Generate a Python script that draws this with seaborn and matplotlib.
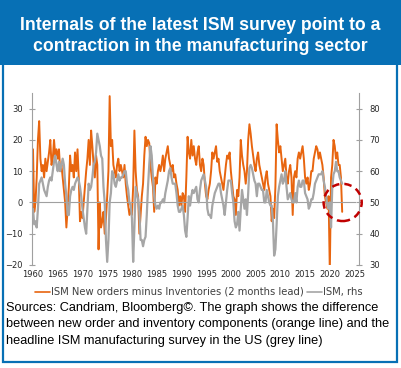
import numpy as np
import pandas as pd
import matplotlib
matplotlib.use("Agg")
import matplotlib.pyplot as plt
import seaborn as sns
from matplotlib.patches import Rectangle, Ellipse
from matplotlib.lines import Line2D

sns.set_style("white")
plt.rcParams['font.family'] = ['Liberation Sans', 'DejaVu Sans']

# ISM manufacturing PMI (rhs), quarterly readings 1960Q1 - 2022Q3
ism_pmi = [
    48, 43, 44, 42,  48, 56, 57, 58,  56, 54, 53, 52,  55, 57, 58, 57,   # 1960-63
    60, 63, 65, 62,  60, 63, 60, 62,  64, 62, 56, 52,  46, 46, 52, 54,   # 1964-67
    55, 54, 56, 57,  58, 57, 55, 52,  48, 45, 42, 40,  48, 56, 54, 55,   # 1968-71
    58, 62, 63, 66,  72, 70, 68, 65,  64, 55, 50, 38,  31, 38, 50, 53,   # 1972-75
    60, 59, 56, 55,  57, 59, 57, 58,  58, 59, 60, 60,  56, 54, 50, 49,   # 1976-79
    45, 31, 42, 55,  53, 51, 47, 38,  38, 36, 38, 39,  46, 55, 62, 68,   # 1980-83
    65, 58, 52, 49,  48, 49, 48, 50,  50, 51, 50, 53,  55, 57, 60, 61,   # 1984-87
    58, 56, 56, 56,  53, 49, 47, 47,  48, 49, 46, 41,  39, 45, 52, 49,   # 1988-91
    52, 54, 53, 54,  55, 51, 50, 54,  57, 58, 59, 57,  55, 48, 46, 46,   # 1992-95
    45, 49, 51, 53,  54, 55, 56, 56,  53, 51, 49, 46,  50, 54, 57, 57,   # 1996-99
    57, 53, 50, 44,  42, 43, 47, 41,  48, 54, 51, 48,  51, 46, 53, 61,   # 2000-03
    62, 61, 59, 57,  56, 52, 56, 56,  55, 54, 54, 50,  50, 54, 52, 50,   # 2004-07
    49, 49, 44, 33,  35, 43, 52, 55,  57, 59, 56, 57,  60, 55, 51, 52,   # 2008-11
    53, 51, 50, 50,  53, 50, 55, 57,  55, 55, 57, 57,  53, 52, 51, 48,   # 2012-15
    49, 51, 51, 53,  56, 57, 58, 59,  59, 59, 60, 57,  55, 52, 49, 48,   # 2016-19
    50, 42, 55, 59,  60, 63, 60, 60,  58, 57, 56,                        # 2020-22
]

# ISM new orders minus inventories, 2 months lead (lhs)
no_minus_inv = [
    17, -3, 0, 8,    20, 26, 14, 10,  12, 8, 14, 10,   13, 16, 20, 12,   # 1960-63
    14, 20, 15, 17,  14, 17, 10, 12,  8, 4, 0, -8,     -2, 5, 15, 10,    # 1964-67
    12, 8, 16, 10,   17, 8, -6, -3,   -5, 0, 5, 10,    14, 20, 12, 23,   # 1968-71
    18, 12, 8, 15,   12, -15, 0, -8,  -6, -3, -10, -5, 2, 10, 34, 18,    # 1972-75
    20, 12, 10, 8,   12, 14, 10, 12,  10, 8, 12, 6,    2, -1, -4, -2,    # 1976-79
    -4, 5, 23, 10,   4, 2, -10, -4,   2, 6, 15, 21,    18, 20, 19, 12,   # 1980-83
    8, 5, -3, 8,     6, 10, 12, 10,   12, 15, 10, 14,  16, 18, 14, 12,   # 1984-87
    10, 12, 8, 9,    6, 4, -1, 2,     -1, 3, 2, -3,    8, 21, 16, 14,    # 1988-91
    20, 15, 18, 14,  12, 16, 18, 12,  10, 14, 12, 6,   2, 1, 4, 6,       # 1992-95
    10, 16, 14, 16,  18, 13, 14, 10,  8, 6, 4, 8,      12, 15, 14, 16,   # 1996-99
    10, 6, 2, 1,     -4, 4, 2, 8,     20, 15, 12, 10,  6, 10, 20, 25,    # 2000-03
    22, 18, 15, 12,  10, 14, 16, 12,  10, 8, 6, 4,     8, 10, 6, 4,      # 2004-07
    2, -6, -2, -5,   5, 25, 20, 16,   18, 14, 10, 12,  14, 8, 6, 10,     # 2008-11
    12, 8, -4, 8,    10, 8, 14, 16,   14, 16, 18, 14,  8, 6, 8, 4,       # 2012-15
    6, 10, 10, 14,   16, 18, 17, 14,  16, 14, 12, 8,   2, 0, -2, 2,      # 2016-19
    -22, 8, 12, 20,  18, 14, 16, 12,  12, 8, -3,                         # 2020-22
]

x_ticks = list(range(1960, 2030, 5))
left_ticks = [-20, -10, 0, 10, 20, 30]
right_ticks = [30, 40, 50, 60, 70, 80]

BLUE = '#0770B5'
ORANGE = '#E8650F'
GREY = '#A6A6A6'
AXIS_GREY = '#A0A0A0'
TXT = '#262626'
TICK_FONT = {'family': ['DejaVu Sans'], 'size': 6}

dates = pd.date_range('1960-01-01', periods=len(ism_pmi), freq='QS')
df = pd.DataFrame({
    'year': dates.year + (dates.month - 1) / 12,
    'pmi': ism_pmi,
    'spread': no_minus_inv,
})

W, H = 401, 368
fig = plt.figure(figsize=(W / 100, H / 100), dpi=100)
fig.patch.set_facecolor('white')

# header band and frame
fig.patches.append(Rectangle((0, 1 - 65 / H), 1, 65 / H, transform=fig.transFigure,
                             facecolor=BLUE, edgecolor='none', zorder=0))
fig.patches.append(Rectangle((3.5 / W, 6 / H), 393 / W, 1 - 6 / H, transform=fig.transFigure,
                             fill=False, edgecolor=BLUE, lw=1.6, zorder=0))
fig.text(0.5, 1 - 36 / H,
         "Internals of the latest ISM survey point to a\ncontraction in the manufacturing sector",
         ha='center', va='center', color='white', fontsize=12.7, fontweight='bold', linespacing=1.25)

ax = fig.add_axes([32 / W, 1 - 265 / H, (359 - 32) / W, (265 - 93) / H])
sns.lineplot(data=df, x='year', y='spread', ax=ax, color=ORANGE, lw=1.4)
ax2 = ax.twinx()
sns.lineplot(data=df, x='year', y='pmi', ax=ax2, color=GREY, lw=1.6)

ax.set_xlim(1959.8, 2025.9)
ax.set_ylim(-20, 35)
ax2.set_ylim(30, 85)
ax.set_yticks(left_ticks)
ax2.set_yticks(right_ticks)
ax.set_xticks(x_ticks)
for a in (ax, ax2):
    a.set_xlabel('')
    a.set_ylabel('')
    a.spines['top'].set_visible(False)

ax.spines['right'].set_visible(False)
ax2.spines['left'].set_visible(False)
ax2.spines['bottom'].set_visible(False)
ax.spines['left'].set_color(AXIS_GREY)
ax2.spines['right'].set_color(AXIS_GREY)
ax.spines['bottom'].set_position(('data', 0))
ax.spines['bottom'].set_bounds(1959.8, 2025)
ax.spines['bottom'].set_color(AXIS_GREY)

ax.tick_params(axis='x', direction='inout', length=4, color=AXIS_GREY, labelbottom=False)
ax.tick_params(axis='y', direction='inout', length=5, color=AXIS_GREY, labelcolor=TXT, pad=4)
ax2.tick_params(axis='y', direction='inout', length=5, color=AXIS_GREY, labelcolor=TXT, pad=5)

sec = ax.secondary_xaxis(0)
sec.set_xticks(x_ticks)
sec.tick_params(length=0, labelcolor=TXT, pad=3.5)
sec.spines['bottom'].set_visible(False)

for lbl in ax.get_yticklabels() + ax2.get_yticklabels() + sec.get_xticklabels():
    lbl.set_fontfamily(TICK_FONT['family'])
    lbl.set_fontsize(TICK_FONT['size'])

ax2.add_patch(Ellipse((2022.6, 50), width=7.7, height=11.9, fill=False,
                      edgecolor='#C00000', lw=1.8, ls=(0, (3, 2)), clip_on=False, zorder=5))

handles = [Line2D([], [], color=ORANGE, lw=1.2), Line2D([], [], color=GREY, lw=1.2)]
labels = ['ISM New orders minus Inventories (2 months lead)', 'ISM, rhs']
fig.legend(handles, labels, loc='center', bbox_to_anchor=(0.496, 1 - 292 / H), ncol=2,
           frameon=False, prop={'family': ['DejaVu Sans'], 'size': 7.2}, handlelength=1.5,
           handletextpad=0.1, columnspacing=0.4, labelcolor='#404040')

fig.text(6 / W, 1 - 302 / H,
         "Sources: Candriam, Bloomberg\u00a9. The graph shows the difference\n"
         "between new order and inventory components (orange line) and the\n"
         "headline ISM manufacturing survey in the US (grey line)",
         ha='left', va='top', fontsize=9.2, color='black', linespacing=1.48)

fig.savefig('out.png', dpi=100)
